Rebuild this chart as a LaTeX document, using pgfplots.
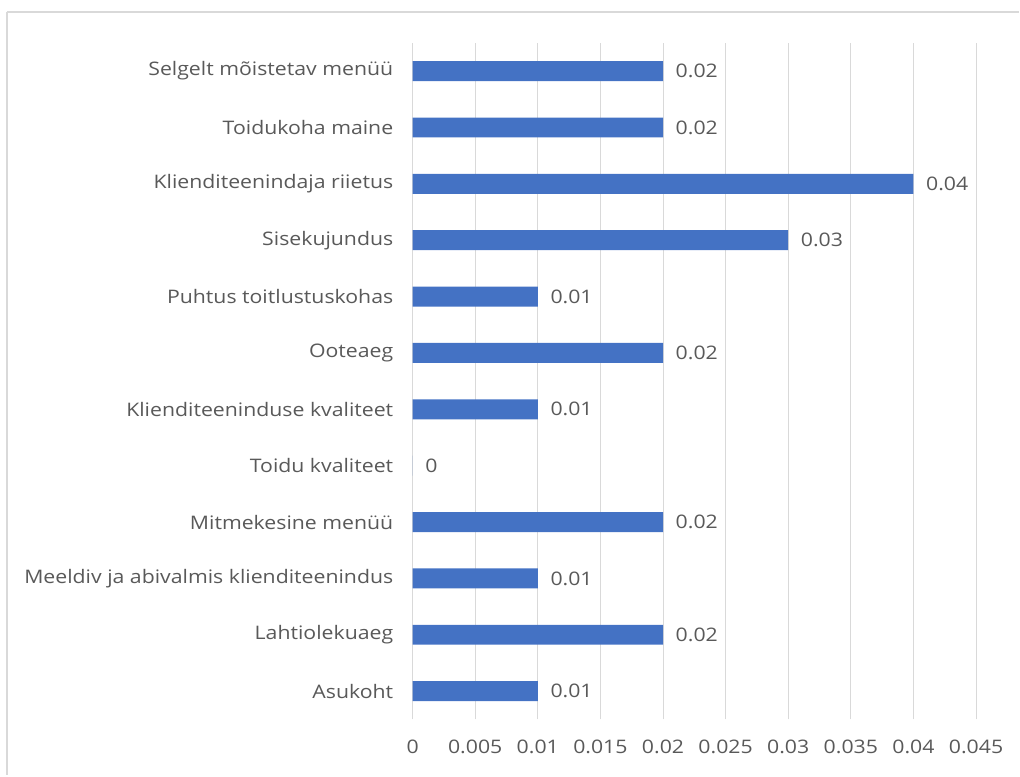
\documentclass[border=0pt]{standalone}
\usepackage{pgfplots}
\pgfplotsset{compat=1.18}
\usepackage{fontspec}
\setmainfont[FakeStretch=1.14]{Open Sans}
\definecolor{barblue}{HTML}{4472C4}
\definecolor{txtgray}{HTML}{595959}
\definecolor{gridgray}{HTML}{D9D9D9}
\begin{document}
\begin{tikzpicture}
\path (0pt,0pt) rectangle (765pt,-582pt);
\draw[gridgray, line width=1.5pt] (5.25pt,-9pt) -- (765pt,-9pt);
\draw[gridgray, line width=1.5pt] (5.25pt,-9pt) -- (5.25pt,-582pt);
\begin{axis}[
  at={(309.75pt,-540pt)}, anchor=south west,
  scale only axis,
  width=423pt, height=507.75pt,
  xbar, bar width=15pt,
  xmin=0, xmax=0.045,
  ymin=-0.5, ymax=11.5,
  scaled x ticks=false,
  xtick={0,0.005,0.01,0.015,0.02,0.025,0.03,0.035,0.04,0.045},
  xticklabels={0,0.005,0.01,0.015,0.02,0.025,0.03,0.035,0.04,0.045},
  ytick={0,...,11},
  yticklabels={Asukoht,Lahtiolekuaeg,Meeldiv ja abivalmis klienditeenindus,Mitmekesine menüü,Toidu kvaliteet,Klienditeeninduse kvaliteet,Ooteaeg,Puhtus toitlustuskohas,Sisekujundus,Klienditeenindaja riietus,Toidukoha maine,Selgelt mõistetav menüü},
  xmajorgrids, grid style={gridgray, line width=0.75pt},
  axis line style={draw=none},
  major tick length=0pt,
  tick label style={font=\fontsize{14}{16}\selectfont, text=txtgray},
  xticklabel style={yshift=-12pt},
  yticklabel style={xshift=-11pt},
  nodes near coords,
  nodes near coords style={font=\fontsize{14}{16}\selectfont, text=txtgray, anchor=west, xshift=6pt},
  point meta=explicit symbolic,
  clip=false,
]
\addplot[fill=barblue, draw=none] coordinates {
(0.01,0) [0.01]
(0.02,1) [0.02]
(0.01,2) [0.01]
(0.02,3) [0.02]
(0,4) [0]
(0.01,5) [0.01]
(0.02,6) [0.02]
(0.01,7) [0.01]
(0.03,8) [0.03]
(0.04,9) [0.04]
(0.02,10) [0.02]
(0.02,11) [0.02]
};
\end{axis}
\end{tikzpicture}
\end{document}
